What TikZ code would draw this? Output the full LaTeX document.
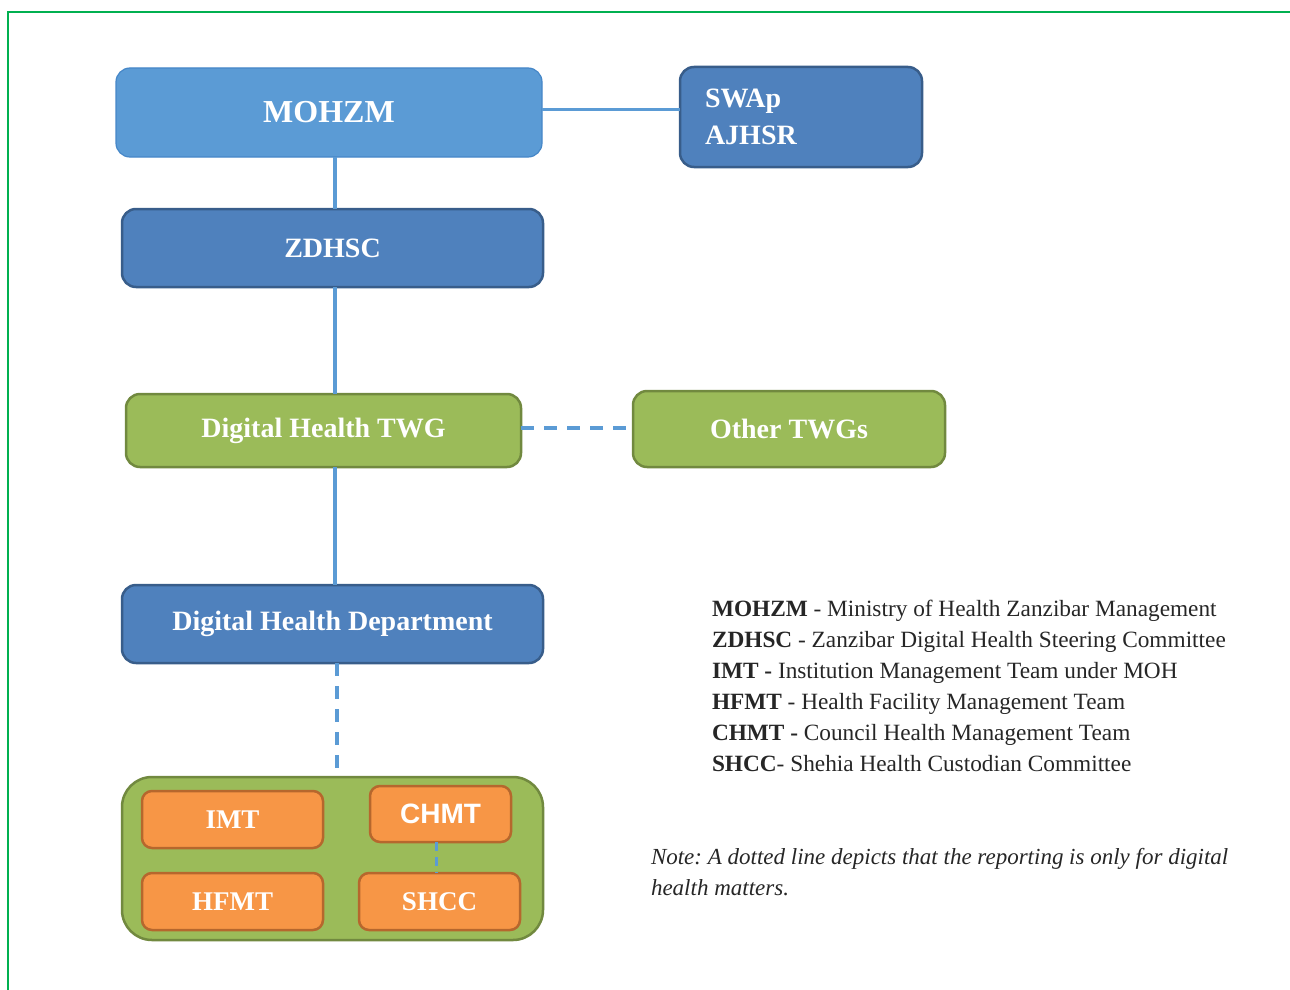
\documentclass[tikz,border=0pt]{standalone}
\usepackage{fontspec}
\setmainfont{Liberation Serif}
\newfontfamily\arialfont{Liberation Sans}
\usetikzlibrary{positioning}

\definecolor{skyfill}{RGB}{91,155,213}
\definecolor{skyline}{RGB}{70,135,200}
\definecolor{navyfill}{RGB}{79,129,189}
\definecolor{navyline}{RGB}{56,93,138}
\definecolor{twgfill}{RGB}{155,187,89}
\definecolor{twgline}{RGB}{113,137,63}
\definecolor{teamfill}{RGB}{247,150,70}
\definecolor{teamline}{RGB}{182,103,45}
\definecolor{framegreen}{RGB}{0,176,80}
\frenchspacing

\begin{document}
\begin{tikzpicture}[x=1pt,y=-1pt,
  every node/.style={align=center,inner sep=0pt,outer sep=0pt},
  box/.style={draw,text=white,rounded corners=14pt,line width=2.5pt,
    font=\bfseries\fontsize{28}{37}\selectfont},
  skybox/.style={box,fill=skyfill,draw=skyline,line width=1.2pt},
  navybox/.style={box,fill=navyfill,draw=navyline},
  twgbox/.style={box,fill=twgfill,draw=twgline},
  teambox/.style={box,fill=teamfill,draw=teamline,rounded corners=10pt,
    font=\bfseries\fontsize{27}{30}\selectfont},
  link/.style={draw=skyfill,line width=3.5pt},
  dotlink/.style={link,dash pattern=on 13pt off 10pt},
  legendtxt/.style={anchor=base west,text=black!85,font=\fontsize{23.3}{31}\selectfont},
]
\useasboundingbox (0,0) rectangle (1290,990);
% frame
\draw[framegreen,line width=1.2pt] (8,990) -- (8,12) -- (1290,12);

% top rows
\node[skybox,minimum width=426,minimum height=89,font=\bfseries\fontsize{32}{36}\selectfont]
  (mohzm) at (329,112.5) {MOHZM};
\node[navybox,minimum width=242,minimum height=100,text width=192,align=left,inner xsep=25pt]
  (swap) at (801,117) {SWAp\\AJHSR};
\node[navybox,minimum width=421,minimum height=78] (zdhsc) at (332.5,248) {ZDHSC};

% working groups
\node[twgbox,minimum width=395,minimum height=73] (dhtwg) at (323.5,430.5) {Digital Health TWG};
\node[twgbox,minimum width=312,minimum height=76] (others) at (789,429) {Other TWGs};
\node[navybox,minimum width=421,minimum height=78] (dhd) at (332.5,624) {Digital Health Department};

% teams
\node[box,fill=twgfill,draw=twgline,rounded corners=30pt,minimum width=421,minimum height=163]
  (grp) at (332.5,858.5) {};
\node[teambox,minimum width=181,minimum height=57] (imt) at (232.5,819.5) {IMT};
\node[teambox,minimum width=141,minimum height=56,font=\arialfont\bfseries\fontsize{28}{30}\selectfont]
  (chmt) at (440.5,814) {CHMT};
\node[teambox,minimum width=181,minimum height=57] (hfmt) at (232.5,901.5) {HFMT};
\node[teambox,minimum width=161,minimum height=57] (shcc) at (439.5,901.5) {SHCC};

% connectors
\draw[link] ([yshift=3pt]mohzm.east) -- ([yshift=3pt]mohzm.east -| swap.west);
\draw[link] ([xshift=2.5pt]zdhsc.north |- mohzm.south) -- ([xshift=2.5pt]zdhsc.north);
\draw[link] ([xshift=2.5pt]zdhsc.south) -- ([xshift=2.5pt]zdhsc.south |- dhtwg.north);
\draw[dotlink] ([yshift=2.5pt]dhtwg.east) -- ([yshift=2.5pt]dhtwg.east -| others.west);
\draw[link] ([xshift=2.5pt]dhd.north |- dhtwg.south) -- ([xshift=2.5pt]dhd.north);
\draw[dotlink] ([xshift=4.5pt]dhd.south) -- ([xshift=4.5pt]grp.north);
\draw[link,dash pattern=on 9pt off 6pt] ([xshift=-4pt]chmt.south) -- ([xshift=-4pt]chmt.south |- shcc.north);

% legend
\foreach \t [count=\i] in {
  {\textbf{MOHZM} - Ministry of Health Zanzibar Management},
  {\textbf{ZDHSC} - Zanzibar Digital Health Steering Committee},
  {\textbf{IMT -} Institution Management Team under MOH},
  {\textbf{HFMT} - Health Facility Management Team},
  {\textbf{CHMT -} Council Health Management Team},
  {\textbf{SHCC}- Shehia Health Custodian Committee}}
  \node[legendtxt] (leg\i) at (712,585+31*\i) {\t};
\node[legendtxt,font=\itshape\fontsize{23}{31}\selectfont] (note1) at (651,864)
  {Note: A dotted line depicts that the reporting is only for digital};
\node[legendtxt,font=\itshape\fontsize{23}{31}\selectfont] (note2) at (651,895)
  {health matters.};
\end{tikzpicture}
\end{document}
